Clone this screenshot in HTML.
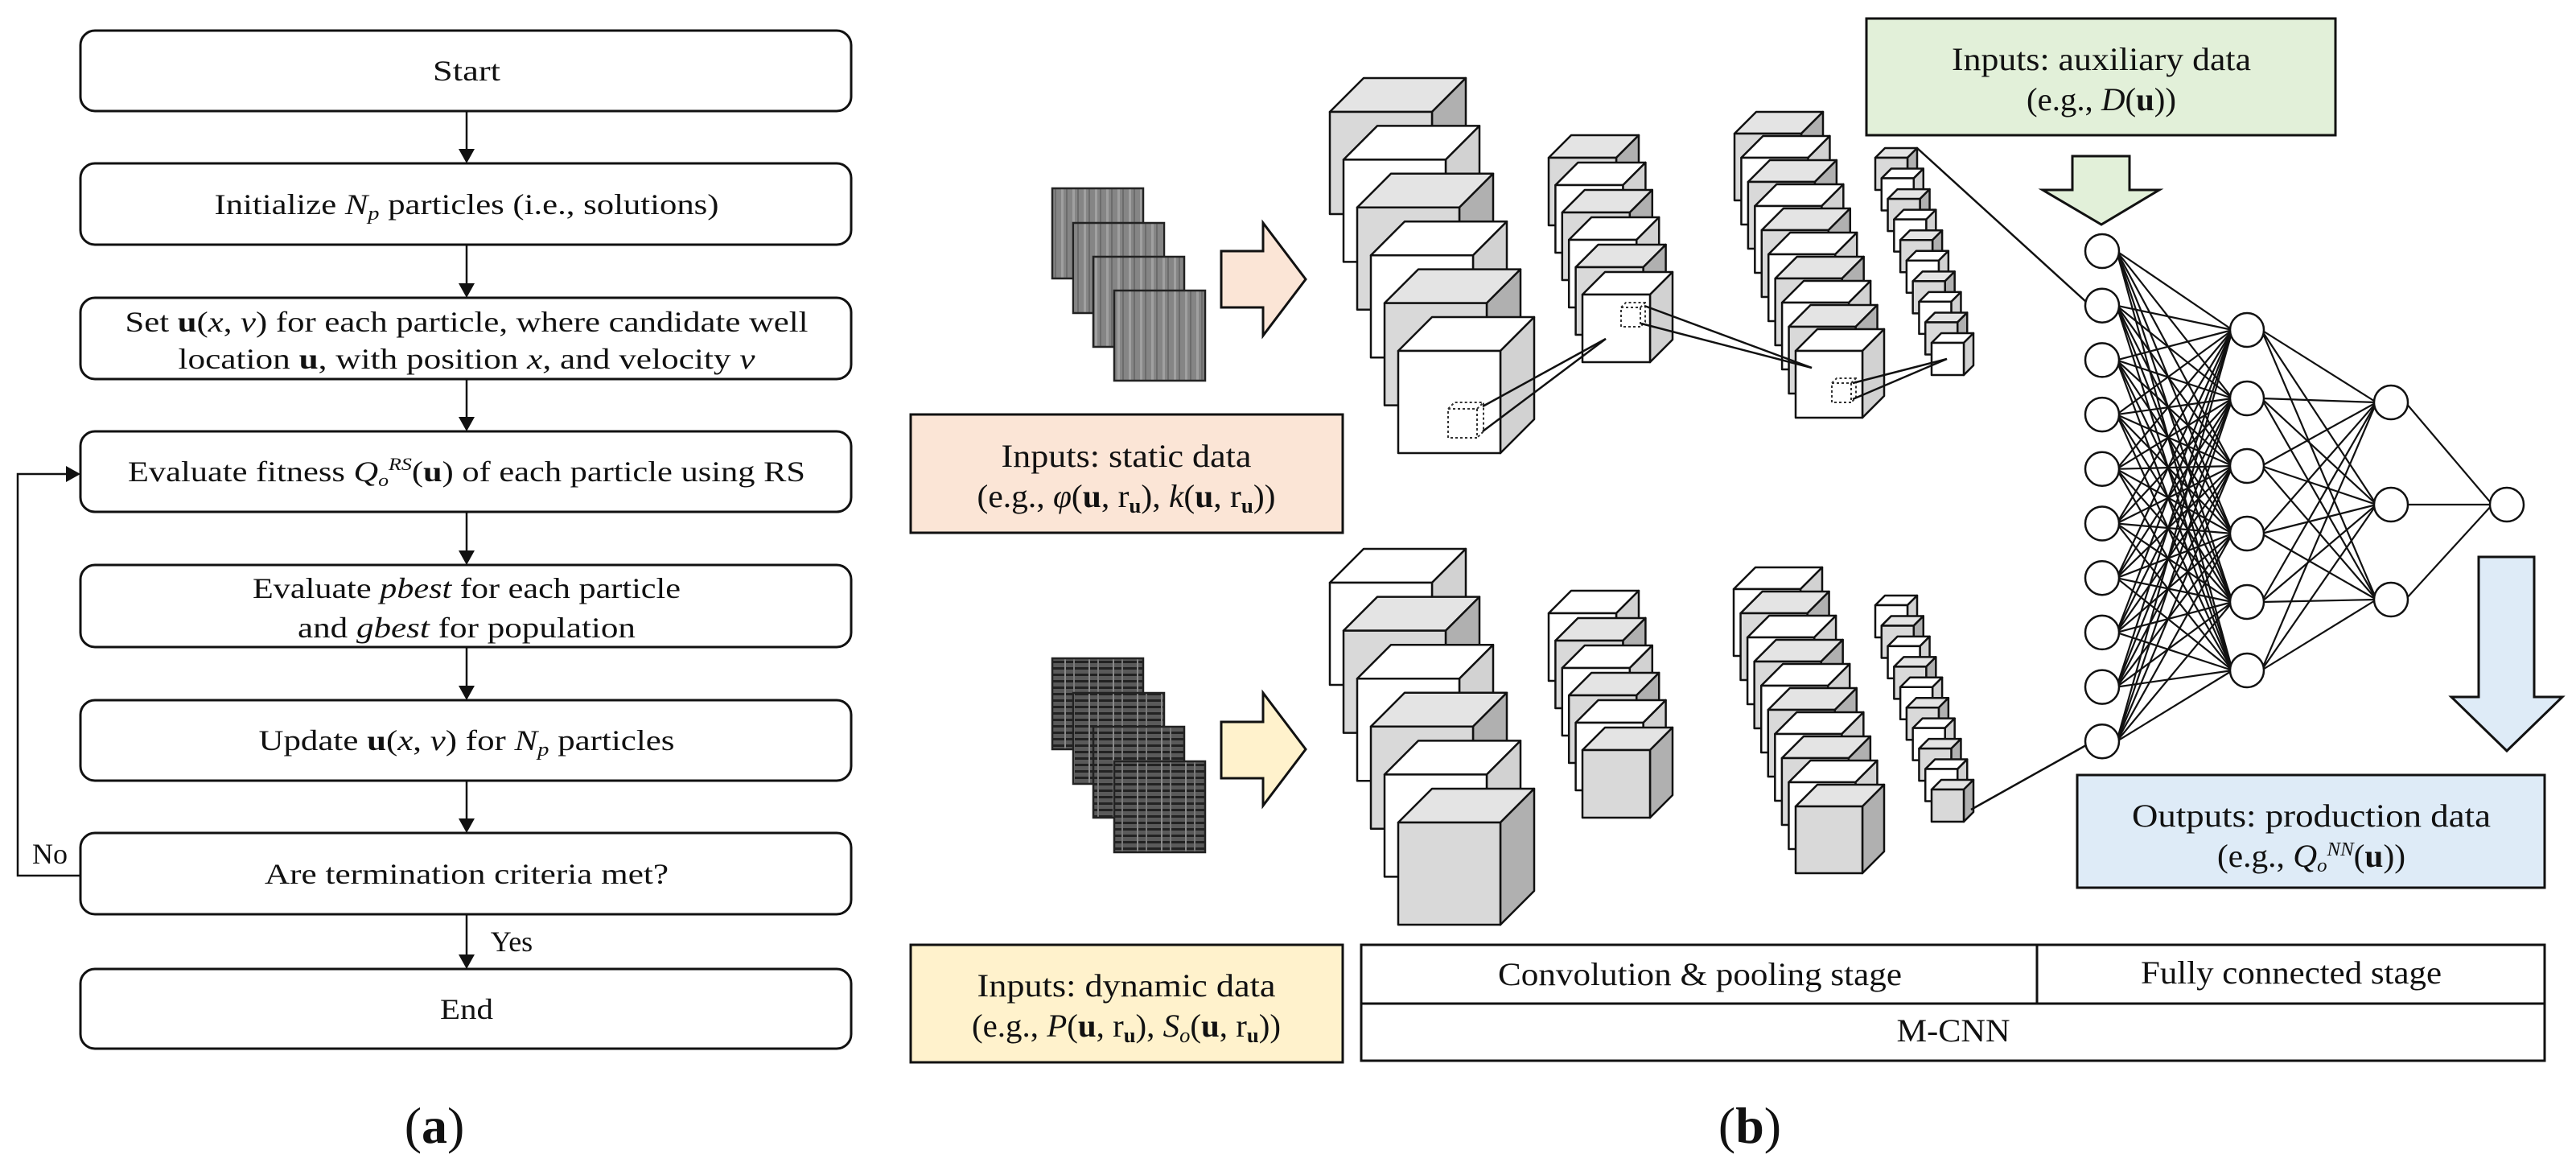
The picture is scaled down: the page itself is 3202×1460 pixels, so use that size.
<!DOCTYPE html>
<html><head><meta charset="utf-8"><style>
html,body{margin:0;padding:0;background:#fff;}
svg{display:block;}
text{font-family:"Liberation Serif",serif;fill:#111;}
</style></head><body>
<svg id="s" width="3202" height="1460" viewBox="0 0 3202 1460" xmlns="http://www.w3.org/2000/svg">
<defs>
<pattern id="st" width="14" height="112" patternUnits="userSpaceOnUse">
<rect width="14" height="112" fill="#858585"/>
<rect x="3" width="3" height="112" fill="#a0a0a0"/>
<rect x="9" width="2" height="112" fill="#6c6c6c"/>
</pattern>
<pattern id="dy" width="30" height="8" patternUnits="userSpaceOnUse">
<rect width="30" height="8" fill="#5a5a5a"/>
<rect y="5" width="30" height="3" fill="#222"/>
<rect x="3" width="2" height="8" fill="#8a8a8a"/>
<rect x="14" width="2" height="8" fill="#7a7a7a"/>
</pattern>
</defs>
<g id="fc" fill="none" stroke="#111" stroke-width="3">
<rect x="100" y="38" width="958" height="100" rx="18" fill="#fff"/>
<rect x="100" y="203" width="958" height="101" rx="18" fill="#fff"/>
<rect x="100" y="370" width="958" height="101" rx="18" fill="#fff"/>
<rect x="100" y="536" width="958" height="100" rx="18" fill="#fff"/>
<rect x="100" y="702" width="958" height="102" rx="18" fill="#fff"/>
<rect x="100" y="870" width="958" height="100" rx="18" fill="#fff"/>
<rect x="100" y="1035" width="958" height="101" rx="18" fill="#fff"/>
<rect x="100" y="1204" width="958" height="99" rx="18" fill="#fff"/>
<line x1="580" y1="138" x2="580" y2="185" stroke-width="2.5"/>
<line x1="580" y1="304" x2="580" y2="352" stroke-width="2.5"/>
<line x1="580" y1="471" x2="580" y2="518" stroke-width="2.5"/>
<line x1="580" y1="636" x2="580" y2="684" stroke-width="2.5"/>
<line x1="580" y1="804" x2="580" y2="852" stroke-width="2.5"/>
<line x1="580" y1="970" x2="580" y2="1017" stroke-width="2.5"/>
<line x1="580" y1="1136" x2="580" y2="1186" stroke-width="2.5"/>
<polyline points="100,1088 22,1088 22,589 82,589" stroke-width="2.5"/>
</g>
<g fill="#111">
<polygon points="570,185 590,185 580,203"/>
<polygon points="570,352 590,352 580,370"/>
<polygon points="570,518 590,518 580,536"/>
<polygon points="570,684 590,684 580,702"/>
<polygon points="570,852 590,852 580,870"/>
<polygon points="570,1017 590,1017 580,1035"/>
<polygon points="570,1186 590,1186 580,1204"/>
<polygon points="82,579 82,599 100,589"/>
</g>
<g font-size="36" text-anchor="middle">
<text x="580" y="100" textLength="84" lengthAdjust="spacingAndGlyphs">Start</text>
<text x="580" y="266" textLength="627" lengthAdjust="spacingAndGlyphs">Initialize <tspan font-style="italic">N</tspan><tspan font-style="italic" font-size="24" dy="7">p</tspan><tspan dy="-7"> particles (i.e., solutions)</tspan></text>
<text x="580" y="412" textLength="849" lengthAdjust="spacingAndGlyphs">Set <tspan font-weight="bold">u</tspan>(<tspan font-style="italic">x</tspan>, <tspan font-style="italic">v</tspan>) for each particle, where candidate well</text>
<text x="580" y="458" textLength="717" lengthAdjust="spacingAndGlyphs">location <tspan font-weight="bold">u</tspan>, with position <tspan font-style="italic">x,</tspan> and velocity <tspan font-style="italic">v</tspan></text>
<text x="580" y="598" textLength="842" lengthAdjust="spacingAndGlyphs">Evaluate fitness <tspan font-style="italic">Q</tspan><tspan font-style="italic" font-size="22" dy="6">o</tspan><tspan font-style="italic" font-size="22" dy="-20">RS</tspan><tspan dy="14">(</tspan><tspan font-weight="bold">u</tspan>) of each particle using RS</text>
<text x="580" y="743" textLength="532" lengthAdjust="spacingAndGlyphs">Evaluate <tspan font-style="italic">pbest</tspan> for each particle</text>
<text x="580" y="792" textLength="420" lengthAdjust="spacingAndGlyphs">and <tspan font-style="italic">gbest</tspan> for population</text>
<text x="580" y="932" textLength="517" lengthAdjust="spacingAndGlyphs">Update <tspan font-weight="bold">u</tspan>(<tspan font-style="italic">x</tspan>, <tspan font-style="italic">v</tspan>) for <tspan font-style="italic">N</tspan><tspan font-style="italic" font-size="24" dy="7">p</tspan><tspan dy="-7"> particles</tspan></text>
<text x="580" y="1098" textLength="502" lengthAdjust="spacingAndGlyphs">Are termination criteria met?</text>
<text x="580" y="1266" textLength="66" lengthAdjust="spacingAndGlyphs">End</text>
<text x="62" y="1073">No</text>
<text x="636" y="1182">Yes</text>
<text x="540" y="1420" font-size="64">(<tspan font-weight="bold">a</tspan>)</text>
<text x="2175" y="1420" font-size="64">(<tspan font-weight="bold">b</tspan>)</text>
</g>
<g stroke="#222" stroke-width="2.5">
<rect x="1308" y="234" width="113" height="112" fill="url(#st)"/>
<rect x="1334" y="277" width="113" height="112" fill="url(#st)"/>
<rect x="1359" y="319" width="113" height="112" fill="url(#st)"/>
<rect x="1385" y="361" width="113" height="112" fill="url(#st)"/>
<rect x="1308" y="818" width="113" height="113" fill="url(#dy)"/>
<rect x="1334" y="861" width="113" height="113" fill="url(#dy)"/>
<rect x="1359" y="903" width="113" height="113" fill="url(#dy)"/>
<rect x="1385" y="946" width="113" height="113" fill="url(#dy)"/>
</g>
<g stroke="#111" stroke-width="3">
<polygon points="1518,312 1570,312 1570,277 1623,347 1570,417 1570,382 1518,382" fill="#fbe5d6"/>
<polygon points="1518,897 1570,897 1570,861 1623,931 1570,1001 1570,967 1518,967" fill="#fff2cc"/>
<polygon points="2576,194 2647,194 2647,236 2684,236 2612,279 2539,236 2576,236" fill="#e2f0d9"/>
<polygon points="3081,692 3150,692 3150,866 3185,866 3116,933 3047,866 3081,866" fill="#deebf7"/>
<rect x="1132" y="515" width="537" height="147" fill="#fbe5d6"/>
<rect x="1132" y="1174" width="537" height="146" fill="#fff2cc"/>
<rect x="2320" y="23" width="583" height="145" fill="#e2f0d9"/>
<rect x="2582" y="963" width="581" height="140" fill="#deebf7"/>
<rect x="1692" y="1174" width="1471" height="144" fill="#fff"/>
<line x1="1692" y1="1247" x2="3163" y2="1247"/>
<line x1="2532" y1="1174" x2="2532" y2="1247"/>
</g>
<g font-size="40" text-anchor="middle">
<text x="1400" y="580" textLength="311" lengthAdjust="spacingAndGlyphs">Inputs: static data</text>
<text x="1400" y="630" textLength="371" lengthAdjust="spacingAndGlyphs">(e.g., <tspan font-style="italic">φ</tspan>(<tspan font-weight="bold">u</tspan>, r<tspan font-weight="bold" font-size="26" dy="7">u</tspan><tspan dy="-7">), </tspan><tspan font-style="italic">k</tspan>(<tspan font-weight="bold">u</tspan>, r<tspan font-weight="bold" font-size="26" dy="7">u</tspan><tspan dy="-7">))</tspan></text>
<text x="1400" y="1238" textLength="371" lengthAdjust="spacingAndGlyphs">Inputs: dynamic data</text>
<text x="1400" y="1288" textLength="384" lengthAdjust="spacingAndGlyphs">(e.g., <tspan font-style="italic">P</tspan>(<tspan font-weight="bold">u</tspan>, r<tspan font-weight="bold" font-size="26" dy="7">u</tspan><tspan dy="-7">), </tspan><tspan font-style="italic">S</tspan><tspan font-style="italic" font-size="26" dy="7">o</tspan><tspan dy="-7">(</tspan><tspan font-weight="bold">u</tspan>, r<tspan font-weight="bold" font-size="26" dy="7">u</tspan><tspan dy="-7">))</tspan></text>
<text x="2612" y="87" textLength="372" lengthAdjust="spacingAndGlyphs">Inputs: auxiliary data</text>
<text x="2612" y="137" textLength="186" lengthAdjust="spacingAndGlyphs">(e.g., <tspan font-style="italic">D</tspan>(<tspan font-weight="bold">u</tspan>))</text>
<text x="2873" y="1027" textLength="446" lengthAdjust="spacingAndGlyphs">Outputs: production data</text>
<text x="2873" y="1077" textLength="234" lengthAdjust="spacingAndGlyphs">(e.g., <tspan font-style="italic">Q</tspan><tspan font-style="italic" font-size="24" dy="6">o</tspan><tspan font-style="italic" font-size="24" dy="-20">NN</tspan><tspan dy="14">(</tspan><tspan font-weight="bold">u</tspan>))</text>
<text x="2113" y="1224" textLength="502" lengthAdjust="spacingAndGlyphs">Convolution &amp; pooling stage</text>
<text x="2848" y="1222" textLength="374" lengthAdjust="spacingAndGlyphs">Fully  connected stage</text>
<text x="2428" y="1294" textLength="141" lengthAdjust="spacingAndGlyphs">M-CNN</text>
</g>
<g id="cubes"></g>
<g id="net"></g>
</svg>
<script>
var NS="http://www.w3.org/2000/svg";
var cg=document.getElementById("cubes"), ng=document.getElementById("net");
function el(p,tag,a){var e=document.createElementNS(NS,tag);for(var k in a)e.setAttribute(k,a[k]);p.appendChild(e);return e;}
function cube(x,y,w,d,gray){
 var f=gray?"#d9d9d9":"#ffffff", t=gray?"#e4e4e4":"#ffffff", s=gray?"#b0b0b0":"#d2d2d2";
 var g=el(cg,"g",{stroke:"#111","stroke-width":"2.5","stroke-linejoin":"round"});
 el(g,"polygon",{points:x+","+y+" "+(x+d)+","+(y-d)+" "+(x+w+d)+","+(y-d)+" "+(x+w)+","+y,fill:t});
 el(g,"polygon",{points:(x+w)+","+y+" "+(x+w+d)+","+(y-d)+" "+(x+w+d)+","+(y+w-d)+" "+(x+w)+","+(y+w),fill:s});
 el(g,"rect",{x:x,y:y,width:w,height:w,fill:f});
}
function group(x0,y0,x1,y1,n,w,d,firstGray){
 for(var i=0;i<n;i++){var x=x0+(x1-x0)*i/(n-1),y=y0+(y1-y0)*i/(n-1);cube(x,y,w,d,(i%2==0)?firstGray:!firstGray);}
}
group(1653,139,1738,436,6,127,42,true);
group(1925,196,1967,366,6,84,28,true);
group(2156,166,2232,436,10,83,27,true);
group(2331,196,2401,426,10,40,12,true);
group(1653,724,1738,1022,6,127,42,false);
group(1925,762,1967,932,6,84,28,false);
group(2155,732,2232,1002,10,83,27,false);
group(2331,752,2401,981,10,40,12,false);
function dcube(x,y,w,d){
 var g=el(cg,"g",{stroke:"#333","stroke-width":"2","stroke-dasharray":"3,3",fill:"none"});
 el(g,"rect",{x:x,y:y,width:w,height:w});
 el(g,"polyline",{points:x+","+y+" "+(x+d)+","+(y-d)+" "+(x+w+d)+","+(y-d)+" "+(x+w+d)+","+(y+w-d)+" "+(x+w)+","+(y+w)});
 el(g,"line",{x1:x+w,y1:y,x2:x+w+d,y2:y-d});
}
dcube(1800,508,36,8);
dcube(2015,382,24,6);
dcube(2277,476,24,6);
function ln(a,b,c,d,w){el(cg,"line",{x1:a,y1:b,x2:c,y2:d,stroke:"#111","stroke-width":w||2.5});}
ln(1843,505,1996,421);ln(1843,536,1996,421);
ln(2044,380,2252,457);ln(2040,402,2252,457);
ln(2303,476,2420,446);ln(2303,496,2420,446);
ln(2383,184,2593,375);
ln(2450,1006,2593,926);
var L1=[],L2=[],L3=[];
for(var i=0;i<10;i++)L1.push([2613,312+i*67.7]);
var l2y=[410,495,579,663,748,833];for(i=0;i<6;i++)L2.push([2793,l2y[i]]);
var l3y=[500,627,745];for(i=0;i<3;i++)L3.push([2972,l3y[i]]);
var O=[[3116,627]];
function conn(A,B){A.forEach(function(a){B.forEach(function(b){el(ng,"line",{x1:a[0]+18,y1:a[1],x2:b[0]-18,y2:b[1],stroke:"#111","stroke-width":"2.2"});});});}
conn(L1,L2);conn(L2,L3);conn(L3,O);
[L1,L2,L3,O].forEach(function(L){L.forEach(function(p){el(ng,"circle",{cx:p[0],cy:p[1],r:21,fill:"#fff",stroke:"#111","stroke-width":"2.5"});});});
</script>
</body></html>
